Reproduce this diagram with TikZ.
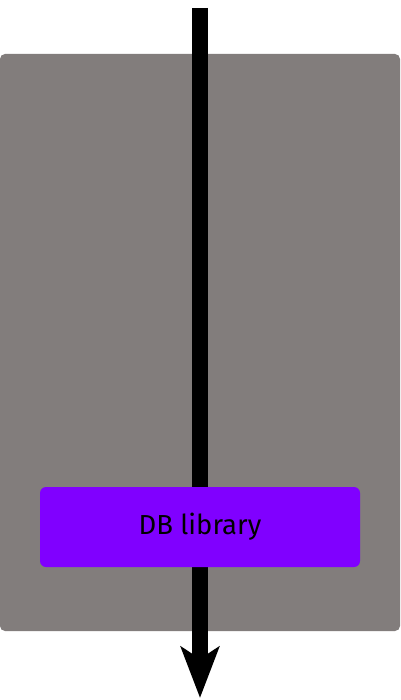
\documentclass[tikz,border=0pt]{standalone}
\usepackage{fontspec}
\setmainfont{Fira Sans}
\usetikzlibrary{arrows.meta}
\definecolor{panelgray}{RGB}{130,125,124}
\definecolor{dbpurple}{RGB}{128,0,255}
\begin{document}
\begin{tikzpicture}[x=1pt,y=-1pt,
  panel/.style={fill=panelgray,draw=none,rounded corners=5pt},
  dbbox/.style={fill=dbpurple,draw=none,rounded corners=6pt,minimum width=320pt,minimum height=80pt,inner sep=0pt,font=\fontsize{27.5}{32}\selectfont,text=black},
  flow/.style={line width=16pt,-{Stealth[length=51pt,width=38pt,inset=12pt]}}]
\useasboundingbox (0,0) rectangle (400,700);
\fill[white] (0,0) rectangle (400,700);
\path[panel] (0,54) rectangle (400,631);
\coordinate (top) at (200,8);
\coordinate (bot) at (200,698);
\draw[flow] (top) -- (bot);
\node[dbbox] (db) at (200,527) {DB library};
\end{tikzpicture}
\end{document}
